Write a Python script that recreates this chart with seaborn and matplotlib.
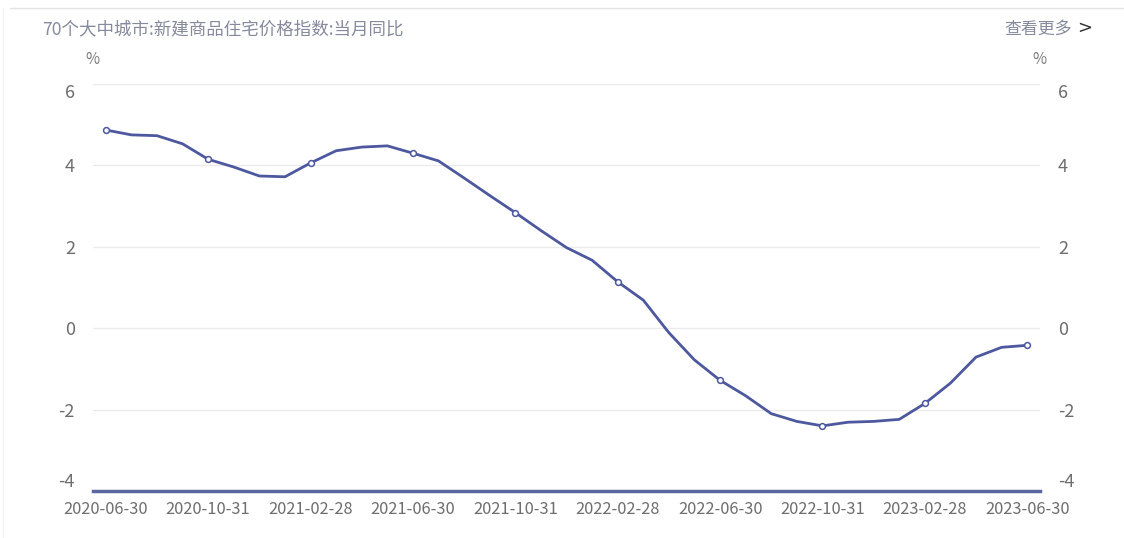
import matplotlib
matplotlib.use("Agg")
import matplotlib.pyplot as plt
import seaborn as sns
import pandas as pd
import numpy as np
from matplotlib.lines import Line2D

dates = pd.date_range("2020-06-30", "2023-06-30", freq="ME").strftime("%Y-%m-%d").tolist()
values = [4.87, 4.75, 4.73, 4.53, 4.15, 3.96, 3.74, 3.72, 4.06, 4.36,
          4.45, 4.48, 4.30, 4.11, 3.69, 3.26, 2.84, 2.40, 1.98, 1.67,
          1.14, 0.69, -0.11, -0.78, -1.28, -1.66, -2.10, -2.29, -2.40, -2.31,
          -2.29, -2.24, -1.85, -1.35, -0.71, -0.47, -0.42]
yticks = [-4, -2, 0, 2, 4, 6]
title = "70个大中城市:新建商品住宅价格指数:当月同比"
more_text = "查看更多"

sns.set_theme(style="white")
plt.rcParams['font.family'] = ['Noto Sans CJK SC', 'DejaVu Sans']

df = pd.DataFrame({"idx": range(len(dates)), "date": dates, "value": values})

fig = plt.figure(figsize=(11.24, 5.38), dpi=100)
ax = fig.add_axes([93 / 1124, 47 / 538, 947 / 1124, 407 / 538])

line_c = "#4d589e"
sns.lineplot(data=df, x="idx", y="value", ax=ax, color=line_c, linewidth=2.0,
             marker="o", markevery=4, markersize=4.2, markerfacecolor="white",
             markeredgecolor=line_c, markeredgewidth=1.1)

ax.set_xlim(-0.5, len(dates) - 0.5)
ax.set_ylim(-4, 6)
ax.set_yticks(yticks)
ax.set_yticklabels([str(t) for t in yticks])
tick_pos = list(range(0, len(dates), 4))
ax.set_xticks(tick_pos)
ax.set_xticklabels([dates[i] for i in tick_pos])
ax.set_xlabel("")
ax.set_ylabel("")

for t in yticks[1:]:
    ax.axhline(t, color="#ebebee", linewidth=1.0, zorder=0)

for s in ["top", "right", "left"]:
    ax.spines[s].set_visible(False)
ax.spines["bottom"].set_color("#5a669f")
ax.spines["bottom"].set_linewidth(2.5)

ax.tick_params(axis="y", which="both", length=0, labelsize=13, labelcolor="#6e6e6e",
               pad=13, labelright=True, labelleft=True)
ax.tick_params(axis="x", length=0, labelsize=11.8, labelcolor="#6e6e6e", pad=7)

# edge labels sit inside the plotting range, as in the reference
for lab in ax.get_yticklabels(which="major") + ax.yaxis.get_ticklabels(which="major"):
    pass
fig.canvas.draw()
for tick in ax.yaxis.get_major_ticks():
    for lab in (tick.label1, tick.label2):
        if lab.get_text() == str(yticks[-1]):
            lab.set_va("top")
        elif lab.get_text() == str(yticks[0]):
            lab.set_va("bottom")

fig.text(92 / 1124, 1 - 60 / 538, "%", ha="center", va="center", fontsize=11, color="#7a7a7a")
fig.text(1039 / 1124, 1 - 60 / 538, "%", ha="center", va="center", fontsize=11, color="#7a7a7a")

fig.text(42 / 1124, 1 - 29 / 538, title, ha="left", va="center", fontsize=12.6, color="#858a9c")
fig.text(1072 / 1124, 1 - 29 / 538, more_text, ha="right", va="center", fontsize=12.2, color="#858a9c")
fig.text(1085 / 1124, 1 - 28 / 538, ">", ha="center", va="center", fontsize=13, color="#333333",
         family="DejaVu Sans")

fig.add_artist(Line2D([10 / 1124, 1], [1 - 8 / 538, 1 - 8 / 538], transform=fig.transFigure,
                      color="#e3e3e3", linewidth=1.0))
fig.add_artist(Line2D([3 / 1124, 3 / 1124], [0, 1 - 8 / 538], transform=fig.transFigure,
                      color="#f3f3f3", linewidth=1.0))

fig.savefig("out.png", dpi=100)
